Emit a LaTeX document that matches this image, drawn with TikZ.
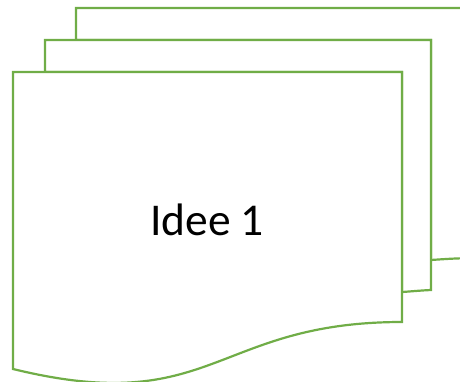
\documentclass[tikz,border=0pt]{standalone}
\usepackage{fontspec}
\setmainfont{Carlito}
\definecolor{docgreen}{HTML}{70AD47}
\begin{document}
\begin{tikzpicture}[x=1pt,y=-1pt,
  docshape/.style={draw=docgreen,line width=2.2pt,fill=white,line join=miter}]
\useasboundingbox (0,0) rectangle (460,381);
\clip (0,0) rectangle (460,381);
% back document
\path[docshape] (76,40) -- (76,8) -- (480,8) -- (480,258) .. controls (460,258) and (445,259) .. (431,260) -- (431,40) -- cycle;
% middle document
\path[docshape] (45,72) -- (45,40) -- (431,40) -- (431,290) .. controls (420,290.5) and (410,291.5) .. (402,292) -- (402,72) -- cycle;
% front document
\path[docshape] (13,72) -- (402,72) -- (402,322) .. controls (213.7,322) and (213.7,418) .. (13,369) -- cycle;
\node[anchor=base,font=\fontsize{45.5}{54}\selectfont,inner sep=0pt] (label) at (207,235) {Idee 1};
\end{tikzpicture}
\end{document}
